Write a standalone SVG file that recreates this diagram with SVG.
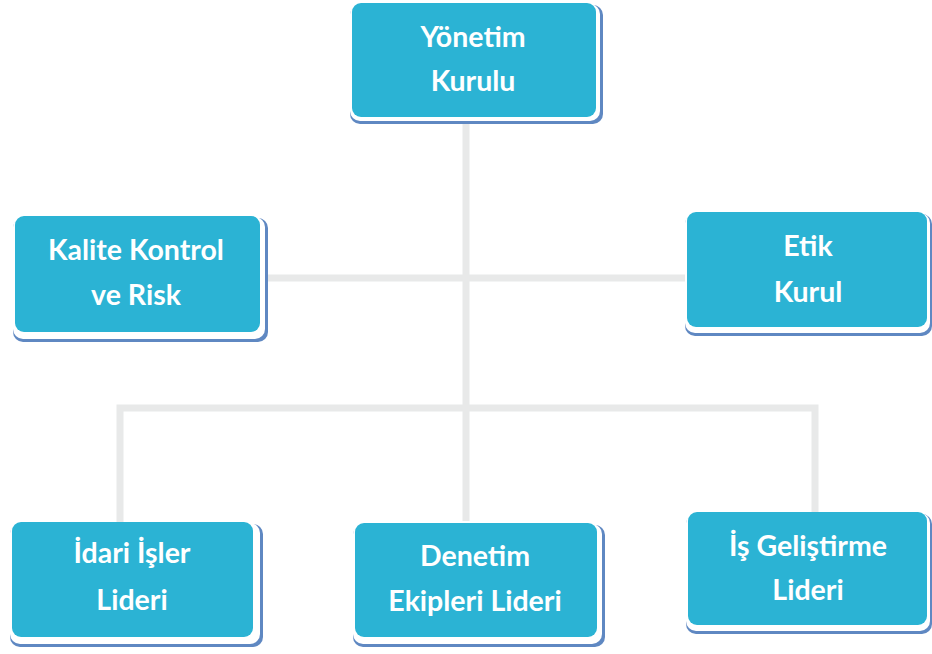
<svg xmlns="http://www.w3.org/2000/svg" width="932" height="654" viewBox="0 0 932 654">
<style>
.box{fill:#2bb3d4;}
.sh{fill:#5f88c2;}
.gap{fill:#ffffff;}
.t{font-family:Lato,"Open Sans","Liberation Sans",sans-serif;font-weight:700;font-size:28.5px;fill:#ffffff;text-anchor:middle;}
.ln{stroke:#e8e9e9;stroke-width:7;fill:none;stroke-linecap:butt;}
</style>
<rect width="932" height="654" fill="#ffffff"/>
<g id="connectors">
<path class="ln" d="M466 124 V521"/>
<path class="ln" d="M268 278 H687"/>
<path class="ln" d="M120 522 V408 H815 V512"/>
</g>
<g id="yonetim">
<rect class="sh" x="350" y="5" width="253" height="119" rx="10"/>
<rect class="gap" x="350" y="4" width="250" height="117" rx="10"/>
<rect class="box" x="352" y="3" width="244" height="114" rx="9"/>
<text class="t" x="473" y="47">Yönetim</text>
<text class="t" x="473" y="91">Kurulu</text>
</g>
<g id="kalite">
<rect class="sh" x="13" y="218" width="255" height="124" rx="10"/>
<rect class="gap" x="13" y="217" width="252" height="122" rx="10"/>
<rect class="box" x="15" y="216" width="245" height="116" rx="9"/>
<text class="t" x="136" y="260">Kalite Kontrol</text>
<text class="t" x="136" y="305">ve Risk</text>
</g>
<g id="etik">
<rect class="sh" x="685" y="214" width="247" height="122" rx="10"/>
<rect class="gap" x="685" y="213" width="245" height="120" rx="10"/>
<rect class="box" x="687" y="212" width="240" height="115" rx="9"/>
<text class="t" x="808" y="256">Etik</text>
<text class="t" x="808" y="302">Kurul</text>
</g>
<g id="idari">
<rect class="sh" x="10" y="524" width="253" height="123" rx="10"/>
<rect class="gap" x="10" y="523" width="250" height="121" rx="10"/>
<rect class="box" x="12" y="522" width="241" height="115" rx="9"/>
<text class="t" x="132" y="563">İdari İşler</text>
<text class="t" x="132" y="610">Lideri</text>
</g>
<g id="denetim">
<rect class="sh" x="353" y="525" width="252" height="122" rx="10"/>
<rect class="gap" x="353" y="524" width="249" height="120" rx="10"/>
<rect class="box" x="355" y="523" width="242" height="114" rx="9"/>
<text class="t" x="475" y="566">Denetim</text>
<text class="t" x="475" y="611">Ekipleri Lideri</text>
</g>
<g id="isgelistirme">
<rect class="sh" x="686" y="514" width="246" height="120" rx="10"/>
<rect class="gap" x="686" y="513" width="244" height="118" rx="10"/>
<rect class="box" x="688" y="512" width="239" height="113" rx="9"/>
<text class="t" x="808" y="556">İş Geliştirme</text>
<text class="t" x="808" y="600">Lideri</text>
</g>
</svg>
